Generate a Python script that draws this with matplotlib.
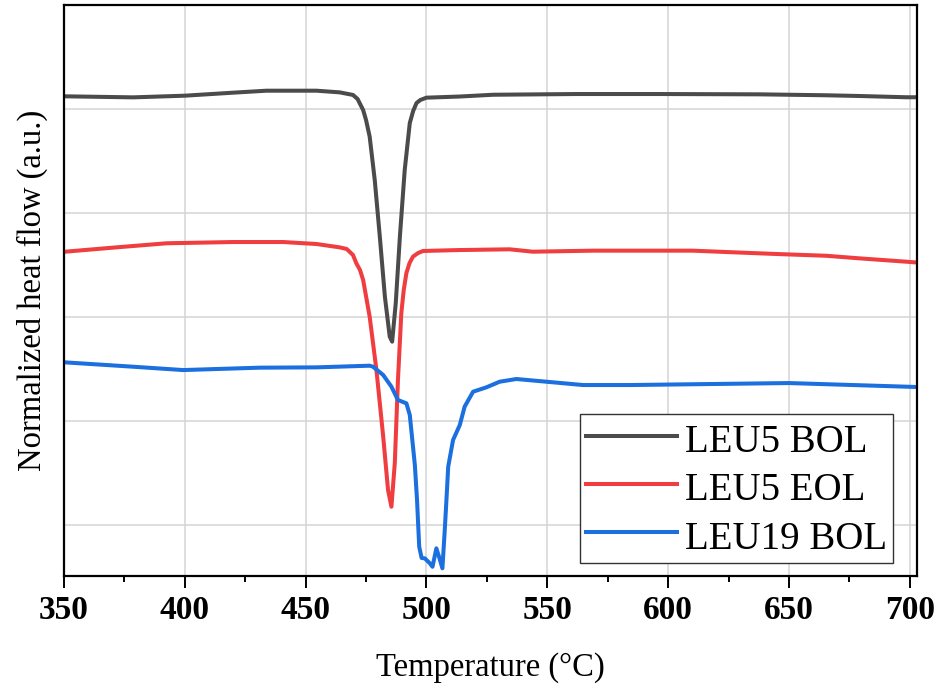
# coding=utf-8
"""
DSC de LEU5 BOL / LEU5 EOL / LEU19 BOL, flujo de calor normalizado.
"""

import matplotlib
matplotlib.use('Agg')
import matplotlib.pyplot as plt
from matplotlib.ticker import MultipleLocator

# Datos (temperatura en °C, flujo en u.a.)
t_bol5 = [350.0, 350.4, 378.7, 400.0, 420.0, 433.8, 454.5, 464.1, 469.6, 471.5,
          473.8, 475.0, 476.5, 478.6, 480.7, 482.8, 484.8, 485.8, 487.3, 489.0,
          491.0, 493.1, 494.5, 495.9, 497.5, 500.0, 513.8, 527.5, 562.0, 596.5,
          637.8, 665.4, 679.2, 698.5, 703.0]
q_bol5 = [5.122, 5.122, 5.112, 5.128, 5.157, 5.176, 5.176, 5.160, 5.135, 5.096,
          4.990, 4.894, 4.734, 4.317, 3.772, 3.195, 2.811, 2.763, 3.135, 3.772,
          4.413, 4.865, 4.981, 5.058, 5.087, 5.109, 5.120, 5.137, 5.144, 5.144,
          5.141, 5.132, 5.125, 5.113, 5.113]

t_eol5 = [350.0, 350.4, 371.8, 392.5, 420.0, 440.7, 454.5, 464.0, 467.0, 469.6,
          471.0, 472.5, 473.8, 476.5, 479.3, 482.1, 484.1, 485.5, 486.9, 488.2,
          489.6, 490.6, 491.7, 493.0, 494.4, 496.5, 498.6, 513.8, 534.4, 544.0,
          568.9, 610.2, 624.0, 644.7, 665.4, 679.2, 698.5, 703.0]
q_eol5 = [3.628, 3.628, 3.670, 3.709, 3.721, 3.721, 3.702, 3.670, 3.654, 3.596,
          3.516, 3.452, 3.356, 3.003, 2.490, 1.849, 1.337, 1.176, 1.596, 2.394,
          3.038, 3.260, 3.423, 3.519, 3.580, 3.615, 3.635, 3.644, 3.651, 3.628,
          3.638, 3.638, 3.625, 3.606, 3.589, 3.564, 3.532, 3.524]

t_bol19 = [350.0, 350.4, 378.7, 399.3, 431.0, 454.5, 476.5, 477.9, 482.1, 485.5,
           488.2, 491.7, 493.1, 495.2, 496.1, 497.0, 498.0, 499.3, 501.4, 502.5,
           504.1, 505.2, 506.6, 507.5, 508.2, 509.0, 511.0, 513.8, 515.8, 519.3,
           524.8, 530.3, 537.2, 549.6, 564.8, 584.0, 650.0, 703.0]
q_bol19 = [2.564, 2.564, 2.522, 2.490, 2.513, 2.516, 2.532, 2.522, 2.442, 2.330,
           2.202, 2.170, 2.058, 1.577, 1.240, 0.791, 0.683, 0.680, 0.632, 0.599,
           0.776, 0.695, 0.584, 0.923, 1.212, 1.561, 1.817, 1.962, 2.138, 2.282,
           2.324, 2.378, 2.404, 2.378, 2.346, 2.346, 2.365, 2.327]

series = [
    (t_bol5, q_bol5, 'LEU5 BOL', '#4b4b4b'),
    (t_eol5, q_eol5, 'LEU5 EOL', '#ef3d40'),
    (t_bol19, q_bol19, 'LEU19 BOL', '#1b6fdf'),
]

plt.rcParams['font.family'] = ['Liberation Serif', 'DejaVu Serif']

fig = plt.figure(figsize=(9.48, 6.84), dpi=100)
ax = fig.add_axes([0.0675, 0.1579, 0.8998, 0.8348])

for t, q, lab, col in series:
    ax.plot(t, q, color=col, lw=2.9, label=lab, solid_joinstyle='round')

ax.set_xlim(350, 703)
ax.set_ylim(0.51, 6.0)
ax.xaxis.set_major_locator(MultipleLocator(50))
ax.xaxis.set_minor_locator(MultipleLocator(25))
ax.set_yticks([1, 2, 3, 4, 5])
ax.set_yticklabels([])
ax.tick_params(axis='y', length=0)
ax.tick_params(axis='x', which='major', direction='out', length=8.5, width=1.4,
               pad=5, labelsize=24)
ax.tick_params(axis='x', which='minor', direction='out', length=4.5, width=1.4)
for lbl in ax.get_xticklabels():
    lbl.set_fontweight('bold')

ax.grid(True, which='major', color='#d4d4d4', lw=1.1)
ax.set_axisbelow(True)
for s in ax.spines.values():
    s.set_linewidth(1.6)

ax.set_xlabel(u'Temperature (°C)', fontsize=23.5, labelpad=19)
ax.set_ylabel(u'Normalized heat flow (a.u.)', fontsize=23.5, labelpad=8)

leg = ax.legend(loc='lower right', bbox_to_anchor=(0.972, 0.022), fontsize=28,
                frameon=True, fancybox=False, framealpha=1, edgecolor='#333333',
                borderaxespad=0, borderpad=0.15, labelspacing=0.175,
                handlelength=2.35, handleheight=1.15, handletextpad=0.2)
leg.get_frame().set_linewidth(1.0)

fig.savefig('out.png', dpi=100)
